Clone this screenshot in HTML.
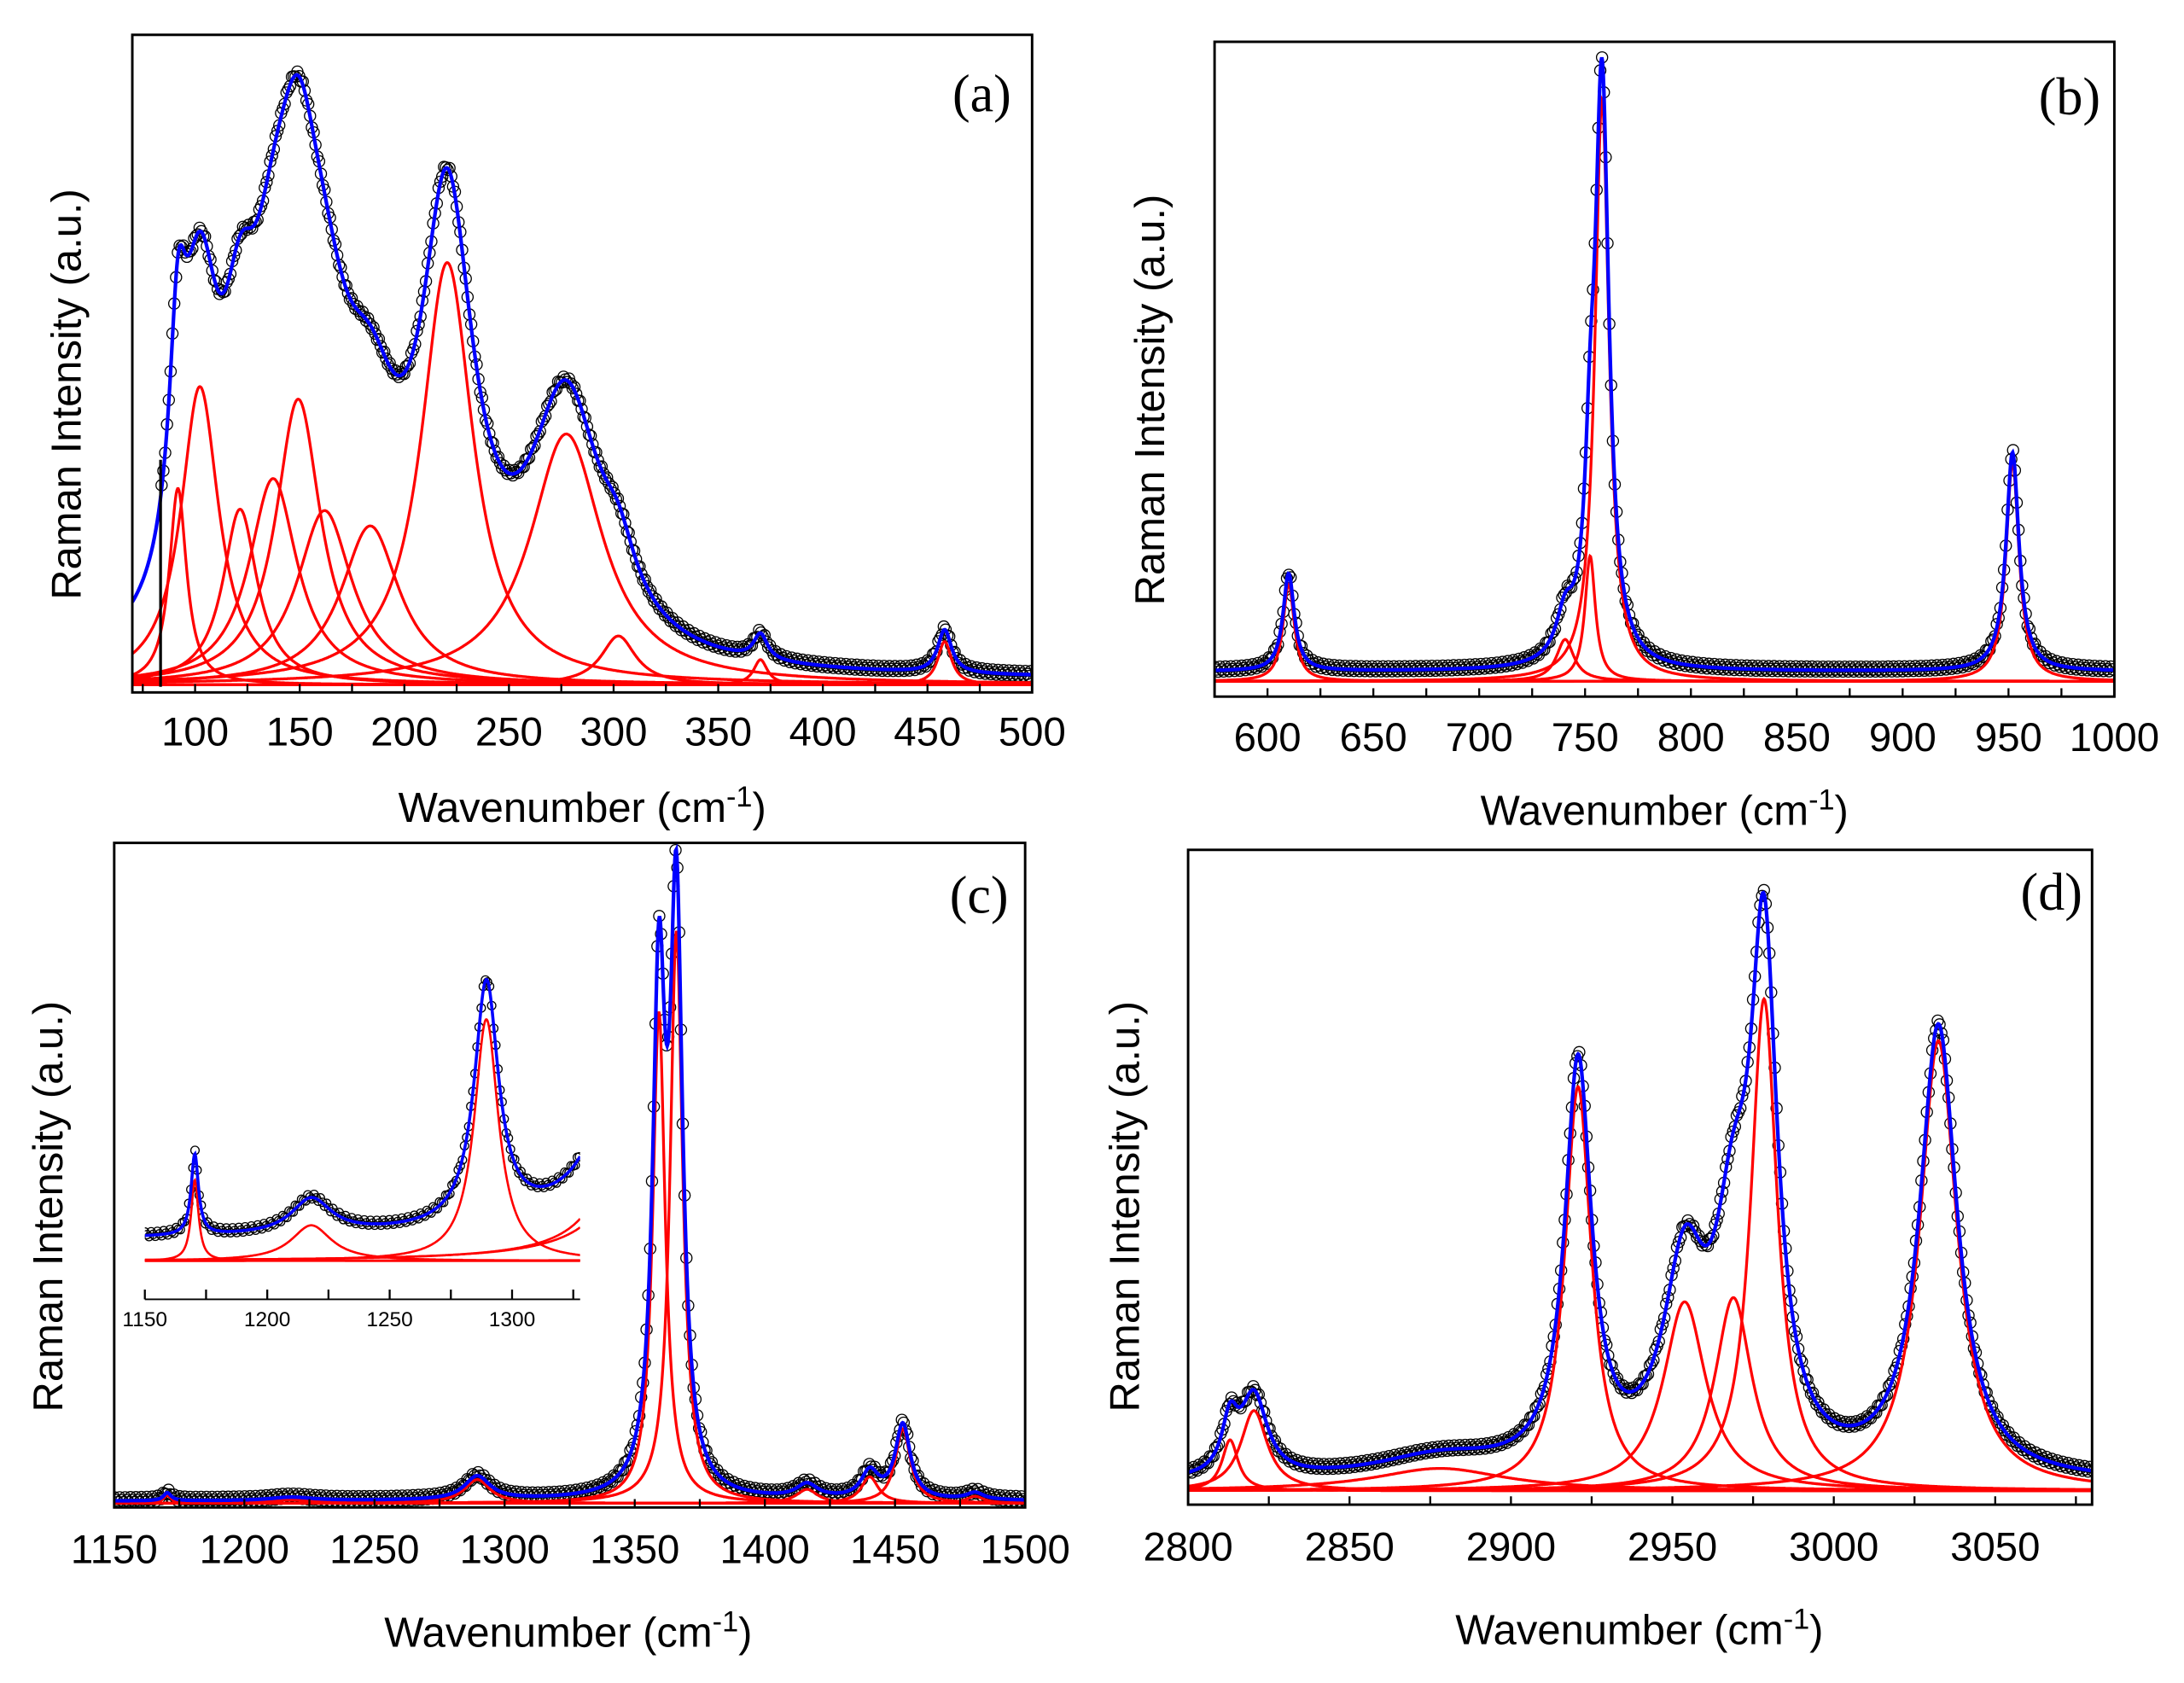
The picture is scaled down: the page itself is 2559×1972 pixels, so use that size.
<!DOCTYPE html>
<html><head><meta charset="utf-8"><style>
html,body{margin:0;padding:0;background:#fff;}
svg{display:block;}
text{font-family:"Liberation Sans",Arial,sans-serif;fill:#000;}
.ser{font-family:"Liberation Serif","Times New Roman",serif;}
</style></head><body>
<svg id="fig" xmlns="http://www.w3.org/2000/svg" width="2559" height="1972" viewBox="0 0 1568 1208" preserveAspectRatio="none"></svg>
<script>
// ---- Panel (a) data ----
const aCenters=[91.8,102.3,121.5,137.3,149.3,161.9,183.7,220.5,277.4,302.3,370.2,458.2];
const aHeights=[141,214,126,148,205,125,114,303,180,35,18,31];
const aWidths=[5,11,10,14,13,16,17,15,21,10,4,4];
const aBg=3;
const aTicks=[100,150,200,250,300,350,400,450,500];
// ---- Panel (b) data ----
const bCenters=[610,740.6,752.4,758,951.9];
const bHeights=[70,30,90,418,157];
const bWidths=[3.2,5,3,4,3.7];
const bBg=7;
const bTicks=[600,650,700,750,800,850,900,950,1000];
// ---- Panel (c) data ----
const cCenters=[1170.4,1218,1289.5,1359.3,1366,1416.2,1440.3,1453,1480.8];
const cHeights=[5.7,2.5,17,353,411,10,19,53.5,5];
const cWidths=[1.8,10,6,2.9,2.9,5,4,3.5,4];
const cBg=1.5;
const cTicks=[1150,1200,1250,1300,1350,1400,1450,1500];
const cInsetTicks=[1150,1200,1250,1300];
// ---- Panel (d) data ----
const dCenters=[2813,2820.4,2878,2920.8,2953.8,2968.9,2978.4,3032.4];
const dHeights=[36.5,57.5,16,290,135.6,138.6,353,323];
const dWidths=[3,5,25,5,8,7,5,7];
const dBg=5;
const dTicks=[2800,2850,2900,2950,3000,3050];

const NS="http://www.w3.org/2000/svg";
const svg=document.getElementById('fig');
function mk(tag,attrs,parent){const e=document.createElementNS(NS,tag);for(const k in attrs)e.setAttribute(k,attrs[k]);(parent||svg).appendChild(e);return e;}
function lor(x,c,h,w){return h/(1+((x-c)/w)*((x-c)/w));}
function fitVal(x,C,H,W,bg){let s=bg;for(let i=0;i<C.length;i++)s+=lor(x,C[i],H[i],W[i]);return s;}

function panel(id,P){
  const g=mk('g',{});
  
  
  const sx=v=>P.x0+(v-P.d0)/(P.d1-P.d0)*(P.x1-P.x0);
  const sy=v=>P.base-v*P.ky;
  const clipId='clip'+id;
  const cp=mk('clipPath',{id:clipId},g);
  mk('rect',{x:P.x0,y:P.y0,width:P.x1-P.x0,height:P.y1-P.y0},cp);
  const plot=mk('g',{'clip-path':'url(#'+clipId+')'},g);
  const dg=mk('g',{fill:'none',stroke:'#000','stroke-width':P.cs||0.8},plot);
  
  
  const start=P.dataStart!==undefined?P.dataStart:P.d0;
  const stepV=(P.cstep||1.3)/((P.x1-P.x0)/(P.d1-P.d0));
  let k=0;
  for(let v=start;v<=P.d1;v+=stepV){
    const off=(k%3===0?-2.5:(k%3===1?-0.5:1));k++;
    mk('circle',{cx:sx(v).toFixed(1),cy:(sy(fitVal(v,P.C,P.H,P.W,P.bg))+off).toFixed(1),r:P.cr||4},dg);
  }
  const fine=0.5/((P.x1-P.x0)/(P.d1-P.d0));
  for(let i=0;i<P.C.length;i++){
    let d='';
    for(let v=P.d0;v<=P.d1+fine;v+=fine){d+=(d?'L':'M')+sx(v).toFixed(1)+','+sy(lor(v,P.C[i],P.H[i],P.W[i])).toFixed(1);}
    const p=mk('path',{d:d,fill:'none',stroke:'#ff0000','stroke-width':P.rw||2},plot);
    
    
  }
  let d='';
  for(let v=P.d0;v<=P.d1+fine;v+=fine){d+=(d?'L':'M')+sx(v).toFixed(1)+','+sy(fitVal(v,P.C,P.H,P.W,P.bg)).toFixed(1);}
  const fp=mk('path',{d:d,fill:'none',stroke:'#0000ff','stroke-width':P.bw||2.6},plot);
  
  
  return {g,sx,sy,plot};
}

function axes(id,P,R){
  const g=R.g;
  if(P.box){
    const b=mk('rect',{x:P.x0,y:P.y0,width:P.x1-P.x0,height:P.y1-P.y0,fill:'none',stroke:'#000','stroke-width':1.8},g);
    
    
  }
  const tg=mk('g',{stroke:'#000','stroke-width':1.4},g);
  
  
  const step=P.ticks[1]-P.ticks[0];
  for(let v=P.ticks[0]-step;v<=P.d1+0.01;v+=step/2){
    if(v<P.d0-0.01)continue;
    const x=R.sx(v);
    if(P.tickDown) mk('line',{x1:x,x2:x,y1:P.axisY,y2:P.axisY-7},tg);
    else mk('line',{x1:x,x2:x,y1:P.y1,y2:P.y1-6},tg);
  }
  for(const t of P.ticks){
    const tx=mk('text',{x:R.sx(t),y:P.labY,'text-anchor':'middle','font-size':P.fs},g);
    tx.textContent=t;
    
    
  }
}

function titles(id,tx,ty,rx,ry,lx,ly){
  const t=mk('text',{x:tx,y:ty,'text-anchor':'middle','font-size':30});
  t.innerHTML='Wavenumber (cm<tspan dy="-11" font-size="21">-1</tspan><tspan dy="11">)</tspan>';
  
  
  const r=mk('text',{x:rx,y:ry,'text-anchor':'middle','dominant-baseline':'central','font-size':30,transform:'rotate(-90 '+rx+' '+ry+')'});
  r.textContent='Raman Intensity (a.u.)';
  
  
  const l=mk('text',{x:lx,y:ly,'text-anchor':'end','font-size':38,'class':'ser'});
  l.textContent='('+id+')';
  
  
}

const PA={x0:95,x1:741,y0:25,y1:497,d0:70,d1:500,base:491.5,ky:1,C:aCenters,H:aHeights,W:aWidths,bg:aBg,dataStart:84,ticks:aTicks,labY:535,fs:29,box:true};
const RA=panel('a',PA);
const drop=mk('line',{x1:RA.sx(83.5),x2:RA.sx(83.5),y1:330,y2:493,stroke:'#000','stroke-width':2},RA.plot);


axes('a',PA,RA);titles('a',418,590,48,283,726,80);
const PB={x0:872,x1:1518,y0:30,y1:500,d0:575,d1:1000,base:489,ky:1,C:bCenters,H:bHeights,W:bWidths,bg:bBg,ticks:bTicks,labY:539,fs:29,box:true};
const RB=panel('b',PB);axes('b',PB,RB);titles('b',1195,592,826,287,1508,82);
const PC={x0:82,x1:736,y0:605,y1:1082,d0:1150,d1:1500,base:1079,ky:1,C:cCenters,H:cHeights,W:cWidths,bg:cBg,ticks:cTicks,labY:1122,fs:29,box:true};
const RC=panel('c',PC);axes('c',PC,RC);titles('c',408,1182,35,866,724,655);
const PI={x0:104,x1:416.5,y0:640,y1:912,d0:1150,d1:1327.8,base:905,ky:10.2,C:cCenters,H:cHeights,W:cWidths,bg:cBg,ticks:cInsetTicks,labY:952,fs:15,box:false,tickDown:true,axisY:932.6,rw:1.6,bw:2.2,cr:3,cstep:1.5};
const RI=panel('c-inset',PI);
const ax=mk('line',{x1:104,x2:416.5,y1:932.6,y2:932.6,stroke:'#000','stroke-width':1.2},RI.g);


axes('c-inset',PI,RI);
const PD={x0:853,x1:1502,y0:610,y1:1080,d0:2800,d1:3080,base:1070,ky:1,C:dCenters,H:dHeights,W:dWidths,bg:dBg,ticks:dTicks,labY:1120,fs:29,box:true};
const RD=panel('d',PD);axes('d',PD,RD);titles('d',1177,1180,808,866,1495,653);
</script>
</body></html>
